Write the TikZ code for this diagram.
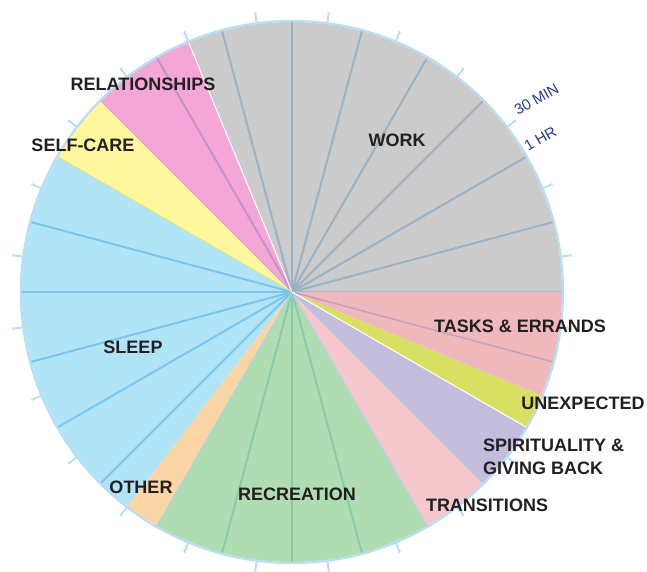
\documentclass[tikz,border=0pt]{standalone}
\usepackage{fontspec}
\setmainfont{Liberation Sans}
\definecolor{workc}{HTML}{CBCBCB}
\definecolor{workl}{HTML}{9BB1C4}
\definecolor{relc}{HTML}{F4A6D7}
\definecolor{rell}{HTML}{C493CF}
\definecolor{selfc}{HTML}{FFF79E}
\definecolor{sleepc}{HTML}{B2E4F8}
\definecolor{sleepl}{HTML}{7CC6EC}
\definecolor{otherc}{HTML}{FAD5A5}
\definecolor{recc}{HTML}{B0DCB2}
\definecolor{recl}{HTML}{8CC9A8}
\definecolor{transc}{HTML}{F4C8CC}
\definecolor{spirc}{HTML}{C2BCDD}
\definecolor{unexc}{HTML}{D8E064}
\definecolor{taskc}{HTML}{EEB8BC}
\definecolor{taskl}{HTML}{C4A0BA}
\definecolor{rimc}{HTML}{B9DEF3}
\definecolor{txtc}{HTML}{231F20}
\definecolor{bluetxt}{HTML}{2B3990}
\begin{document}
\begin{tikzpicture}[x=1pt,y=1pt,
  hourline/.style={line width=2pt},
  bound/.style={line width=1pt},
  lbl/.style={font=\fontsize{18}{22}\selectfont\bfseries, text=txtc, inner sep=0pt},
  scalelbl/.style={font=\fontsize{15}{18}\selectfont, text=bluetxt, inner sep=0pt, rotate=30, anchor=base west},
  tick/.style={rimc, line width=2pt}]
\useasboundingbox (-292,-280) rectangle (355,292);
\def\R{270}
% wedges
\fill[workc]  (0,0) -- (0:\R) arc[start angle=0, end angle=112.5, radius=\R] -- cycle;
\fill[relc]   (0,0) -- (112.5:\R) arc[start angle=112.5, end angle=135, radius=\R] -- cycle;
\fill[selfc]  (0,0) -- (135:\R) arc[start angle=135, end angle=150, radius=\R] -- cycle;
\fill[sleepc] (0,0) -- (150:\R) arc[start angle=150, end angle=232.5, radius=\R] -- cycle;
\fill[otherc] (0,0) -- (232.5:\R) arc[start angle=232.5, end angle=240, radius=\R] -- cycle;
\fill[recc]   (0,0) -- (240:\R) arc[start angle=240, end angle=300, radius=\R] -- cycle;
\fill[transc] (0,0) -- (300:\R) arc[start angle=300, end angle=315, radius=\R] -- cycle;
\fill[spirc]  (0,0) -- (315:\R) arc[start angle=315, end angle=330, radius=\R] -- cycle;
\fill[unexc]  (0,0) -- (330:\R) arc[start angle=330, end angle=337.5, radius=\R] -- cycle;
\fill[taskc]  (0,0) -- (337.5:\R) arc[start angle=337.5, end angle=360, radius=\R] -- cycle;
% hour lines
\foreach \a in {15,30,...,105} \draw[hourline, workl] (0,0) -- (\a:\R);
\draw[hourline, rell] (0,0) -- (120:\R);
\foreach \a in {165,180,...,225} \draw[hourline, sleepl] (0,0) -- (\a:\R);
\foreach \a in {255,270,285} \draw[hourline, recl] (0,0) -- (\a:\R);
\draw[line width=1.5pt, taskl] (0,0) -- (345:\R);
% boundaries
\draw[bound, white] (0,0) -- (112.5:\R);
\draw[bound, color={rgb,255:red,214;green,160;blue,210}] (0,0) -- (135:\R);
\draw[bound, color={rgb,255:red,216;green,226;blue,150}] (0,0) -- (150:\R);
\draw[bound, color={rgb,255:red,170;green,212;blue,234}] (0,0) -- (240:\R);
\draw[bound, color={rgb,255:red,181;green,211;blue,232}] (0,0) -- (300:\R);
\draw[bound, color={rgb,255:red,179;green,197;blue,224}] (0,0) -- (315:\R);
\draw[bound, white] (0,0) -- (330:\R);
\draw[bound, color={rgb,255:red,174;green,184;blue,200}] (0,0) -- (0:\R);
% rim and ticks
\draw[rimc, line width=2.2pt] (0,0) circle[radius=271];
\foreach \k in {0,...,23} \draw[tick] (7.5+15*\k:271) -- (7.5+15*\k:282);
% labels
\node[lbl] (work) at (105,152) {WORK};
\node[lbl] (rel) at (-149,208) {RELATIONSHIPS};
\node[lbl] (self) at (-209,147) {SELF-CARE};
\node[lbl] (sleep) at (-159,-55) {SLEEP};
\node[lbl] (other) at (-151,-195) {OTHER};
\node[lbl] (rec) at (5,-202) {RECREATION};
\node[lbl] (trans) at (195,-213) {TRANSITIONS};
\node[lbl, anchor=west, align=left, font=\fontsize{18}{23}\selectfont\bfseries] (spir) at (191,-164.5) {SPIRITUALITY \&\\GIVING BACK};
\node[lbl] (unex) at (291,-111) {UNEXPECTED};
\node[lbl] (task) at (228,-34) {TASKS \& ERRANDS};
\node[scalelbl] (min) at (226,176) {30 MIN};
\node[scalelbl] (hr) at (236,140) {1 HR};
\end{tikzpicture}
\end{document}
